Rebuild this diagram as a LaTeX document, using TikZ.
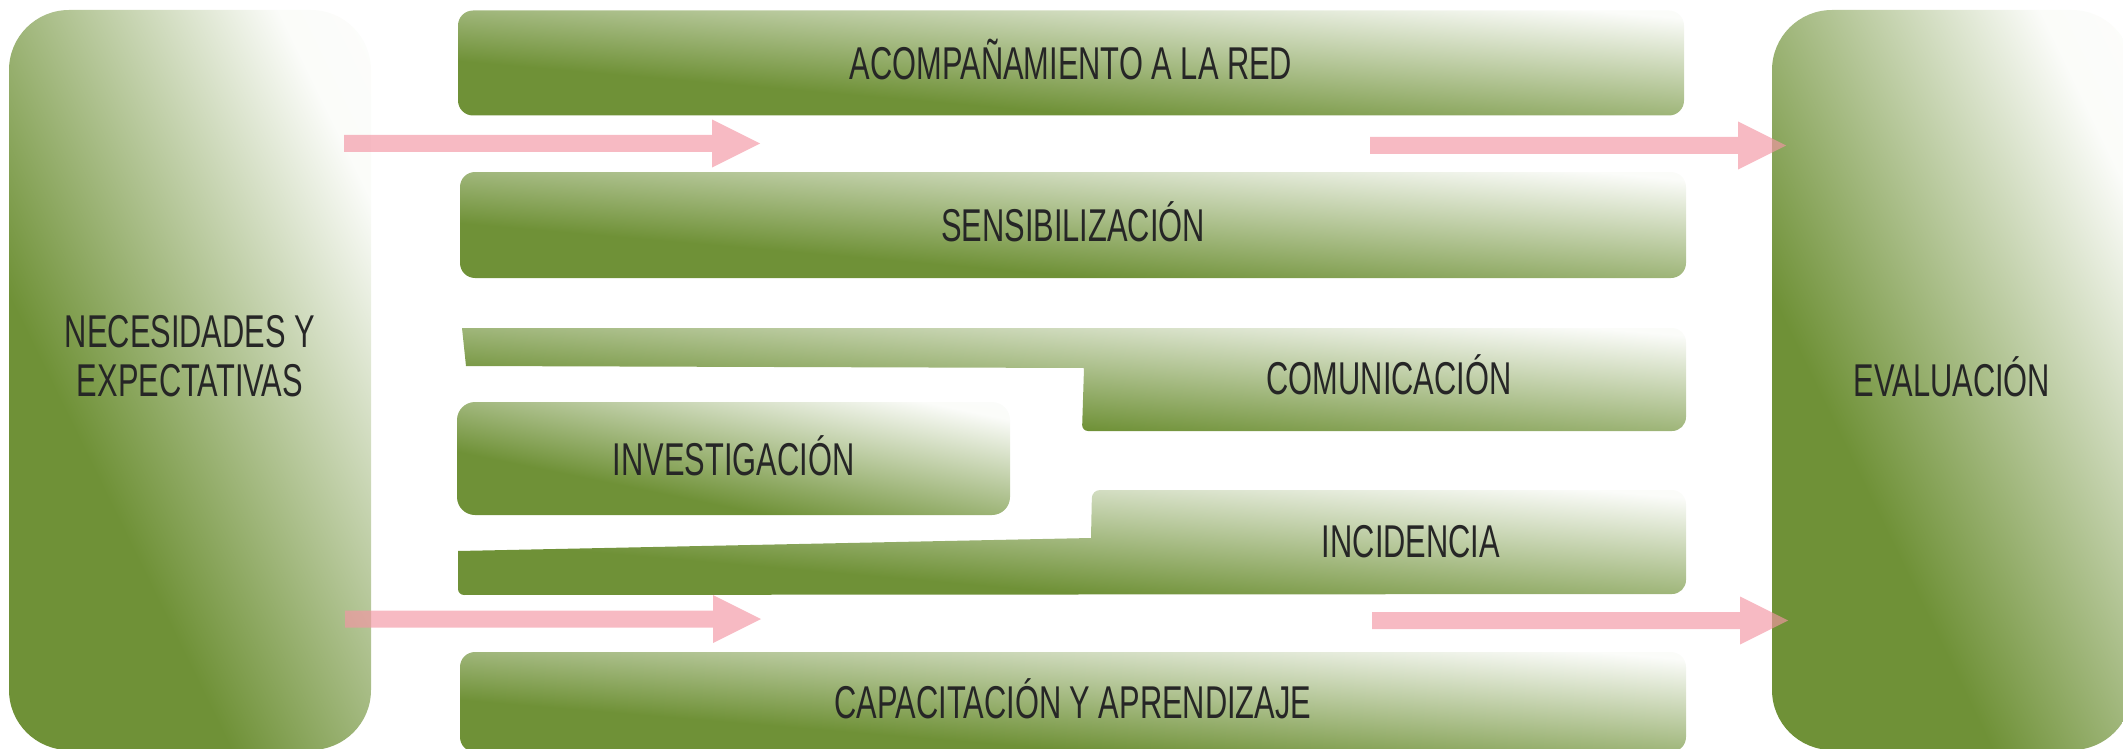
\documentclass[tikz,border=0pt]{standalone}
\usepackage{fontspec}
\setmainfont[FakeStretch=0.67]{Liberation Sans}
\usetikzlibrary{calc}
\definecolor{gdark}{RGB}{111,145,55}
\definecolor{tgray}{RGB}{38,38,38}
\definecolor{apink}{RGB}{243,150,164}
\pgfdeclarehorizontalshading{gfade}{100bp}{color(0bp)=(gdark); color(37bp)=(gdark); color(75bp)=(gdark!3!white); color(100bp)=(white)}
\tikzset{
  gshade/.style={shade, shading=gfade, shading angle=#1},
  lbl/.style={font=\fontsize{46}{49}\selectfont, text=tgray, align=center, inner sep=0pt, text height=33pt, text depth=0pt},
  gbox/.style 2 args={gshade=#2, draw=none, lbl, rounded corners=#1},
  parrow/.style={fill=apink, fill opacity=0.66, draw=none}
}
\newcommand\blockarrow[2]{\fill[parrow] ($(#1)+(0,-8.5)$) -- ($(#2)+(-48,-8.5)$) -- ($(#2)+(-48,-24)$) -- (#2) -- ($(#2)+(-48,24)$) -- ($(#2)+(-48,8.5)$) -- ($(#1)+(0,8.5)$) -- cycle;}
\begin{document}
\begin{tikzpicture}[x=1pt,y=-1pt]
\useasboundingbox (0,0) rectangle (2123,749);
% tall side boxes
\node[gbox={60pt}{26.1}, minimum width=362pt, minimum height=740pt] (nec) at (190,380) {NECESIDADES Y\\EXPECTATIVAS};
\node[gbox={60pt}{25.9}, minimum width=360pt, minimum height=740pt] (eva) at (1952,380) {EVALUACIÓN};
% middle boxes
\node[gbox={15pt}{85.1}, minimum width=1226pt, minimum height=105pt] (aco) at (1071,63) {ACOMPAÑAMIENTO A LA RED};
\node[gbox={15pt}{85.1}, minimum width=1226pt, minimum height=106pt] (sen) at (1073,225) {SENSIBILIZACIÓN};
\node[gbox={18pt}{78.5}, minimum width=553pt, minimum height=113pt] (inv) at (733.5,458.5) {INVESTIGACIÓN};
\node[gbox={15pt}{85.3}, minimum width=1226pt, minimum height=100pt] (cap) at (1073,702) {CAPACITACIÓN Y APRENDIZAJE};
% composite shapes
\path[gshade=85.2] (462,328) [rounded corners=14pt] -- (1686,328) -- (1686,431) [rounded corners=6pt] -- (1082,431) [sharp corners] -- (1084,368) -- (466,366) -- cycle;
\node[lbl] (com) at (1389,378) {COMUNICACIÓN};
\path[gshade=85.1] (1091,538) [rounded corners=8pt] -- (1092,490) [rounded corners=14pt] -- (1686,490) -- (1686,594) [rounded corners=6pt] -- (458,595) [sharp corners] -- (458,551) -- cycle;
\node[lbl] (inc) at (1411,541) {INCIDENCIA};
% arrows
\coordinate (a1s) at (344,143.5); \coordinate (a1e) at (760,143.5);
\coordinate (a2s) at (1370,145.5); \coordinate (a2e) at (1786,145.5);
\coordinate (a3s) at (345,619); \coordinate (a3e) at (761,619);
\coordinate (a4s) at (1372,620.5); \coordinate (a4e) at (1788,620.5);
\blockarrow{a1s}{a1e}
\blockarrow{a2s}{a2e}
\blockarrow{a3s}{a3e}
\blockarrow{a4s}{a4e}
\end{tikzpicture}
\end{document}
